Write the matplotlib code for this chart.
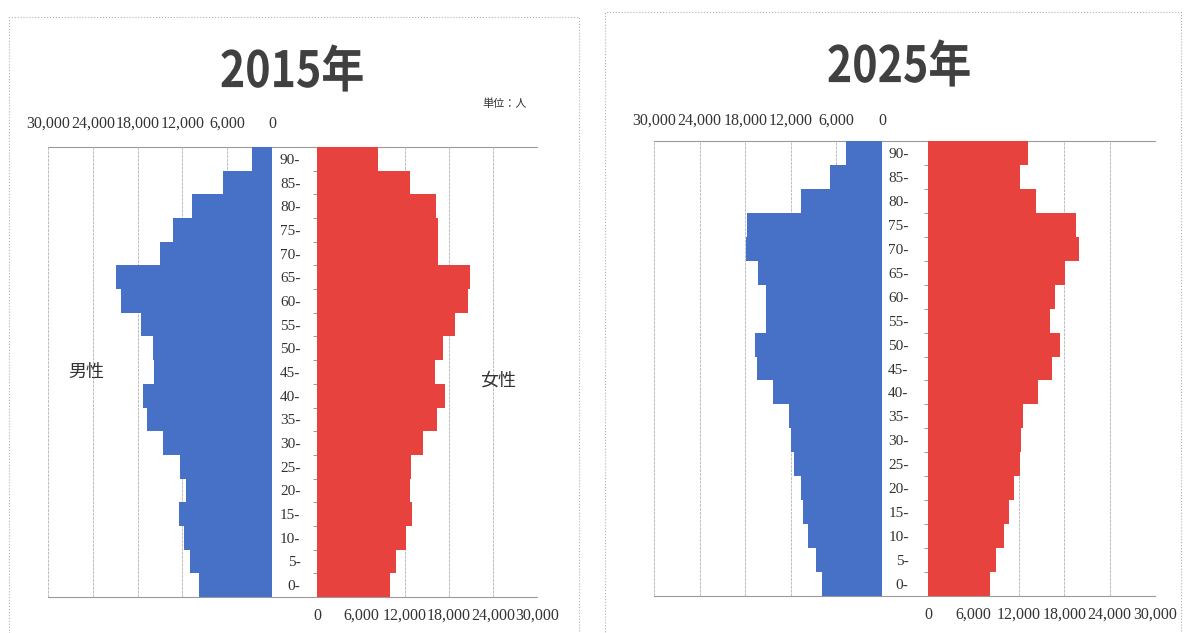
import matplotlib.pyplot as plt
from matplotlib.patches import Rectangle, PathPatch
from matplotlib.textpath import TextPath
from matplotlib.font_manager import FontProperties
from matplotlib.transforms import Affine2D

plt.rcParams['font.family'] = ['Liberation Serif', 'Noto Sans CJK JP']

ages = ['0-', '5-', '10-', '15-', '20-', '25-', '30-', '35-', '40-', '45-',
        '50-', '55-', '60-', '65-', '70-', '75-', '80-', '85-', '90-']
male_2015 = [9800, 11000, 11800, 12400, 11500, 12300, 14600, 16700, 17300, 15800,
             16000, 17600, 20200, 20900, 15000, 13200, 10700, 6500, 2700]
female_2015 = [9900, 10800, 12100, 12900, 12700, 12800, 14400, 16300, 17500, 16100,
               17200, 18800, 20600, 20900, 16500, 16500, 16200, 12700, 8300]
male_2025 = [7900, 8700, 9800, 10400, 10600, 11600, 12000, 12200, 14400, 16500,
             16700, 15200, 15300, 16300, 17900, 17800, 10700, 6900, 4800]
female_2025 = [8200, 9000, 10000, 10700, 11400, 12100, 12300, 12500, 14500, 16400,
               17400, 16100, 16800, 18100, 20000, 19500, 14300, 12200, 13200]
ticks = [0, 6000, 12000, 18000, 24000, 30000]
tick_labels = ['0', '6,000', '12,000', '18,000', '24,000', '30,000']

blue = '#4671c6'
red = '#e8423f'
grid_color = '#bcbcbc'
text_color = '#333333'
cjk = ['Noto Sans CJK JP', 'DejaVu Sans']

W, H = 1184, 633
fig = plt.figure(figsize=(W / 100, H / 100), dpi=100)


def rect(x0, y0, x1, y1):
    # pixel box (top-left origin) -> figure fraction [left, bottom, width, height]
    return [x0 / W, 1 - y1 / H, (x1 - x0) / W, (y1 - y0) / H]


def panel(male, female, xm0, xm1, xf0, xf1, y0, y1, age_pad, top_pad):
    n = len(ages)

    frame = fig.add_axes(rect(xm0, y0, xf1, y1), zorder=0)
    frame.set_xticks([])
    frame.set_yticks([])
    frame.patch.set_alpha(0)
    for s in ['left', 'right']:
        frame.spines[s].set_visible(False)
    for s in ['top', 'bottom']:
        frame.spines[s].set_color('#9a9a9a')
        frame.spines[s].set_linewidth(0.8)

    # male side
    axm = fig.add_axes(rect(xm0, y0, xm1, y1), zorder=1)
    axm.barh(range(n), male, height=1.0, color=blue)
    axm.set_xlim(30000, 0)
    axm.set_ylim(-0.5, n - 0.5)
    axm.xaxis.tick_top()
    axm.set_xticks(ticks, tick_labels)
    axm.set_yticks([])
    axm.grid(axis='x', color=grid_color, lw=0.7, ls=(0, (3, 1)))
    axm.set_axisbelow(True)
    axm.patch.set_alpha(0)
    for s in axm.spines.values():
        s.set_visible(False)
    axm.tick_params(axis='x', length=0, pad=top_pad, labelsize=11.5, colors=text_color)

    # female side
    axf = fig.add_axes(rect(xf0, y0, xf1, y1), zorder=1)
    axf.barh(range(n), female, height=1.0, color=red)
    axf.set_xlim(0, 30000)
    axf.set_ylim(-0.5, n - 0.5)
    axf.set_xticks(ticks, tick_labels)
    axf.set_yticks(range(n), ages)
    axf.set_yticks([i - 0.5 for i in range(n + 1)], minor=True)
    axf.grid(axis='x', color=grid_color, lw=0.7, ls=(0, (3, 1)))
    axf.set_axisbelow(True)
    axf.patch.set_alpha(0)
    for s in axf.spines.values():
        s.set_visible(False)
    axf.tick_params(axis='x', length=0, pad=8, labelsize=11.5, colors=text_color)
    axf.tick_params(axis='y', which='major', length=0, pad=age_pad,
                    labelsize=11, colors=text_color)
    axf.tick_params(axis='y', which='minor', length=3, width=0.7, color='#999999')


panel(male_2015, female_2015, 48, 272, 317, 537, 147, 597, 12, 11)
panel(male_2025, female_2025, 654, 882, 928, 1155, 141, 596, 14, 9)

# panel borders (scanned page frames)
for x0, y0, x1, y1 in [(9, 17, 579, 640), (605, 12, 1181, 640)]:
    fig.add_artist(Rectangle((x0 / W, 1 - y1 / H), (x1 - x0) / W, (y1 - y0) / H,
                             transform=fig.transFigure, fill=False,
                             ec='#b0b0b0', lw=0.8, ls=':'))


def title(s, cx, cy):
    # condensed heading: glyph outlines squeezed horizontally
    tp = TextPath((0, 0), s, size=50,
                  prop=FontProperties(family='Noto Sans CJK JP', weight='bold'))
    ext = tp.get_extents()
    sx = 0.86
    tr = Affine2D().translate(-(ext.x0 + ext.x1) / 2, -(ext.y0 + ext.y1) / 2) \
        .scale(sx, 1).translate(cx, H - cy)
    fig.add_artist(PathPatch(tp, transform=tr, fc='#404040', ec='none'))


title('2015年', 292, 68)
title('2025年', 899, 63)

fig.text(505 / W, 1 - 104 / H, '単位：人', ha='center', va='center', fontsize=8,
         family=cjk, color=text_color)
fig.text(86 / W, 1 - 372 / H, '男性', ha='center', va='center', fontsize=13,
         family=cjk, color=text_color)
fig.text(498 / W, 1 - 381 / H, '女性', ha='center', va='center', fontsize=13,
         family=cjk, color=text_color)

fig.savefig('out.png', dpi=100)
